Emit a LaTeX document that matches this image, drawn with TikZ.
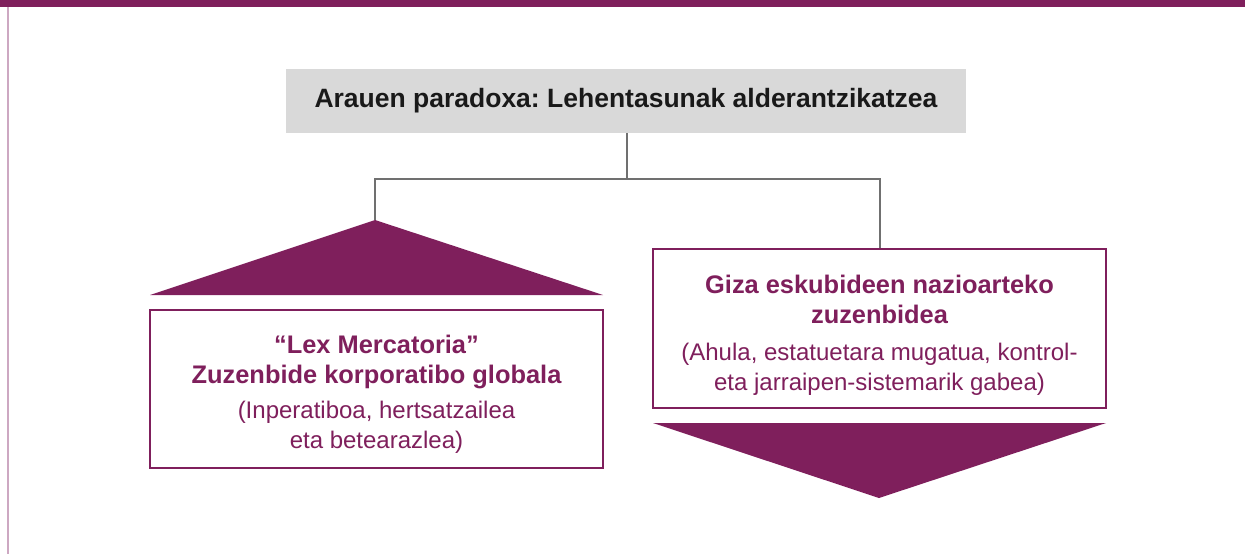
\documentclass[tikz,border=0pt]{standalone}
\usepackage{fontspec}
\setmainfont{Liberation Sans}
\frenchspacing
\definecolor{plum}{HTML}{7F1F5C}
\definecolor{lightplum}{HTML}{CDA8C2}
\definecolor{titlegray}{HTML}{D9D9D9}
\definecolor{linegray}{HTML}{707070}
\newcommand{\headtext}[1]{{\fontsize{25.4}{31}\selectfont\bfseries #1}}
\begin{document}
\begin{tikzpicture}[x=1pt,y=-1pt,
  titlebox/.style={fill=titlegray, minimum width=680pt, minimum height=64pt, inner sep=0pt,
    font=\fontsize{26.5}{30}\selectfont\bfseries, text=black!90},
  plumbox/.style={draw=plum, line width=2.6pt, fill=white, minimum width=453pt, inner sep=0pt,
    align=center, text=plum, font=\fontsize{24}{30}\selectfont},
  connector/.style={draw=linegray, line width=2pt},
  wedge/.style={fill=plum}]
\useasboundingbox (0,0) rectangle (1245,554);
% frame
\fill[plum] (0,0) rectangle (1245,7);
\fill[lightplum] (7,7) rectangle (9,554);
% title
\node[titlebox] (title) at (626,101) {Arauen paradoxa: Lehentasunak alderantzikatzea};
% left triangle and box
\coordinate (apexL) at (375,220);
\fill[wedge] (apexL) -- (603,295) -- (150,295) -- cycle;
\node[plumbox, minimum height=158pt] (lbox) at (376.5,389)
  {\rule{0pt}{28pt}\headtext{“Lex Mercatoria”}\\ \headtext{Zuzenbide korporatibo globala}\\[5pt]
   (Inperatiboa, hertsatzailea\\ eta betearazlea)};
% right box and triangle
\node[plumbox, minimum height=159pt] (rbox) at (879.5,328.5)
  {\rule{0pt}{31pt}\headtext{Giza eskubideen nazioarteko}\\ \headtext{zuzenbidea}\\[7pt]
   (Ahula, estatuetara mugatua, kontrol-\\ eta jarraipen-sistemarik gabea)};
\coordinate (apexR) at (879,498);
\fill[wedge] (653,423) -- (1106,423) -- (apexR) -- cycle;
% connectors
\coordinate (junction) at (627,179);
\draw[connector] (title.south -| junction) -- (junction);
\draw[connector] (junction) -| (apexL);
\draw[connector] (junction) -| (rbox.north);
\end{tikzpicture}
\end{document}
